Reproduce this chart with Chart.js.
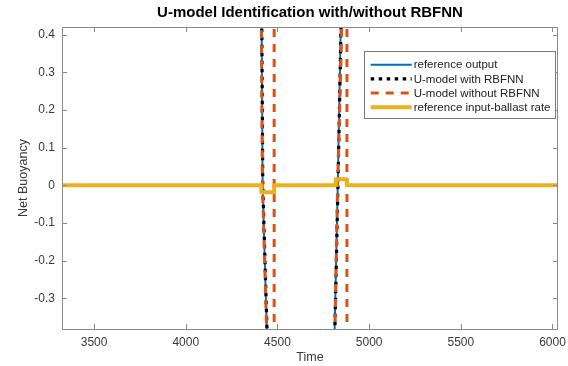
<!DOCTYPE html>
<html>
<head>
<meta charset="utf-8">
<script src="https://cdn.jsdelivr.net/npm/chart.js@4.4.1/dist/chart.umd.min.js"></script>
<style>
  html, body { margin: 0; padding: 0; background: #fff; }
  #wrap { width: 568px; height: 366px; }
</style>
</head>
<body>
<div id="wrap"><canvas id="chart" width="568" height="366"></canvas></div>
<script>
// Net buoyancy around the two ballast pulses. Values beyond the axis limits
// run out of view; null marks a break in the series.
const refTime = [3325, 4409, 4419, 4467, 4793, 4829, 4860, 6030]
const refOutput = [0.8, 0.8, 0, -0.8, -0.8, 0, 0.8, 0.8]

const rbfTime = [3325, 4410, 4420, 4468, 4795, 4830, 4862, 6030]
const rbfOutput = [0.8, 0.8, 0, -0.8, -0.8, 0, 0.8, 0.8]

const plainTime = [3325, 4407, 4418, 4466, 4472, 4482, 4482, 4600, 4798, 4828, 4872, 4874, 4879, 4879, 6030]
const plainOutput = [0.8, 0.8, 0, -0.8, null, -0.8, 0.8, null, -0.8, 0, 0.8, null, -0.8, 0.8, 0.8]

const inputTime = [3325, 4412, 4412, 4482, 4482, 4818, 4818, 4878, 4878, 6030]
const inputRate = [0, 0, -0.018, -0.018, 0, 0, 0.016, 0.016, 0, 0]

const xTicks = [3500, 4000, 4500, 5000, 5500, 6000]
const yTicks = [-0.3, -0.2, -0.1, 0, 0.1, 0.2, 0.3, 0.4]

const toPoints = (xs, ys) => xs.map((x, i) => ({ x: x, y: ys[i] }))

const FONT = "'Liberation Sans', Arial, Helvetica, sans-serif"
const AXIS_COLOR = '#8a8a8a'
const TEXT_COLOR = '#3a3a3a'
const TITLE = 'U-model Identification with/without RBFNN'

// MATLAB-style box with inward ticks on all four sides
const boxAxes = {
  id: 'boxAxes',
  afterDatasetsDraw(chart) {
    const { ctx, chartArea: a, scales } = chart
    const len = 5
    ctx.save()
    ctx.strokeStyle = AXIS_COLOR
    ctx.lineWidth = 1
    ctx.beginPath()
    ctx.rect(Math.round(a.left) + 0.5, Math.round(a.top) + 0.5,
      Math.round(a.right - a.left) - 1, Math.round(a.bottom - a.top))
    xTicks.forEach(v => {
      const px = Math.round(scales.x.getPixelForValue(v)) + 0.5
      ctx.moveTo(px, a.bottom); ctx.lineTo(px, a.bottom - len)
      ctx.moveTo(px, a.top); ctx.lineTo(px, a.top + len)
    })
    yTicks.forEach(v => {
      const py = Math.round(scales.y.getPixelForValue(v)) + 0.5
      ctx.moveTo(a.left, py); ctx.lineTo(a.left + len, py)
      ctx.moveTo(a.right, py); ctx.lineTo(a.right - len, py)
    })
    ctx.stroke()
    ctx.restore()
  }
}

// title centred over the plot area rather than the whole canvas
const axesTitle = {
  id: 'axesTitle',
  afterDraw(chart) {
    const { ctx, chartArea: a } = chart
    ctx.save()
    ctx.font = 'bold 15px ' + FONT
    ctx.fillStyle = '#000'
    ctx.textAlign = 'center'
    ctx.textBaseline = 'middle'
    ctx.fillText(TITLE, (a.left + a.right) / 2, 12.5)
    ctx.restore()
  }
}

// legend box in the upper right of the plot area
const boxLegend = {
  id: 'boxLegend',
  afterDraw(chart) {
    const { ctx, chartArea: a } = chart
    const sets = chart.data.datasets
    const rowH = 14.2
    const sample = 41
    ctx.save()
    ctx.font = '11.5px ' + FONT
    const textW = Math.max(...sets.map(d => ctx.measureText(d.label).width))
    const w = 6.5 + sample + 2 + textW + 5
    const h = rowH * sets.length + 10
    const right = a.right - 2.5
    const left = right - w
    const top = a.top + 24
    ctx.fillStyle = '#fff'
    ctx.fillRect(left, top, w, h)
    ctx.strokeStyle = '#7a7a7a'
    ctx.lineWidth = 1
    ctx.strokeRect(Math.round(left) + 0.5, Math.round(top) + 0.5, Math.round(w), Math.round(h))
    sets.forEach((d, i) => {
      const y = top + 13.7 + i * rowH
      ctx.save()
      ctx.strokeStyle = d.borderColor
      ctx.lineWidth = d.borderWidth
      ctx.setLineDash(d.borderDash || [])
      ctx.lineCap = 'butt'
      ctx.beginPath()
      ctx.moveTo(left + 6.5, y)
      ctx.lineTo(left + 6.5 + sample, y)
      ctx.stroke()
      ctx.restore()
      ctx.fillStyle = '#222'
      ctx.textBaseline = 'middle'
      ctx.textAlign = 'left'
      ctx.fillText(d.label, left + 6.5 + sample + 2, y + 0.5)
    })
    ctx.restore()
  }
}

const ctx = document.getElementById('chart').getContext('2d')
new Chart(ctx, {
  type: 'line',
  data: {
    datasets: [
      {
        label: 'reference output',
        data: toPoints(refTime, refOutput),
        borderColor: '#0072BD',
        borderWidth: 2,
        order: 4
      },
      {
        label: 'U-model with RBFNN',
        data: toPoints(rbfTime, rbfOutput),
        borderColor: '#000000',
        borderWidth: 3.2,
        borderDash: [3.5, 4.5],
        order: 3
      },
      {
        label: 'U-model without RBFNN',
        data: toPoints(plainTime, plainOutput),
        borderColor: '#D95319',
        borderWidth: 3,
        borderDash: [8, 7],
        order: 2
      },
      {
        label: 'reference input-ballast rate',
        data: toPoints(inputTime, inputRate),
        borderColor: '#EDB120',
        borderWidth: 4,
        borderJoinStyle: 'round',
        order: 1
      }
    ]
  },
  options: {
    responsive: false,
    animation: false,
    devicePixelRatio: 1,
    layout: { padding: { left: 0, right: 10, top: 27, bottom: 0 } },
    datasets: {
      line: { pointRadius: 0, tension: 0, fill: false, clip: 0, spanGaps: false }
    },
    plugins: {
      legend: { display: false },
      tooltip: { enabled: false },
      title: { display: false }
    },
    scales: {
      x: {
        type: 'linear',
        min: 3325,
        max: 6030,
        grid: { display: false, drawTicks: false },
        border: { display: false },
        afterBuildTicks: s => { s.ticks = xTicks.map(v => ({ value: v })) },
        ticks: {
          color: TEXT_COLOR,
          padding: 6,
          font: { family: FONT, size: 12 },
          callback: v => String(v)
        },
        title: {
          display: true,
          text: 'Time',
          color: TEXT_COLOR,
          font: { family: FONT, size: 12.5, lineHeight: 1.2 },
          padding: { top: 0, bottom: 0.5 }
        },
        afterFit: s => { s.height = 37; s.paddingLeft = 0; s.paddingRight = 0 }
      },
      y: {
        type: 'linear',
        min: -0.381,
        max: 0.42,
        grid: { display: false, drawTicks: false },
        border: { display: false },
        afterBuildTicks: s => { s.ticks = yTicks.map(v => ({ value: v })) },
        ticks: {
          color: TEXT_COLOR,
          padding: 7,
          font: { family: FONT, size: 12 },
          callback: v => String(v)
        },
        title: {
          display: true,
          text: 'Net Buoyancy',
          color: TEXT_COLOR,
          font: { family: FONT, size: 12.5, lineHeight: 1.2 },
          padding: { top: 16, bottom: 0 }
        },
        afterFit: s => { s.width = 62; s.paddingTop = 0; s.paddingBottom = 0 }
      }
    }
  },
  plugins: [boxAxes, axesTitle, boxLegend]
})
</script>
</body>
</html>
